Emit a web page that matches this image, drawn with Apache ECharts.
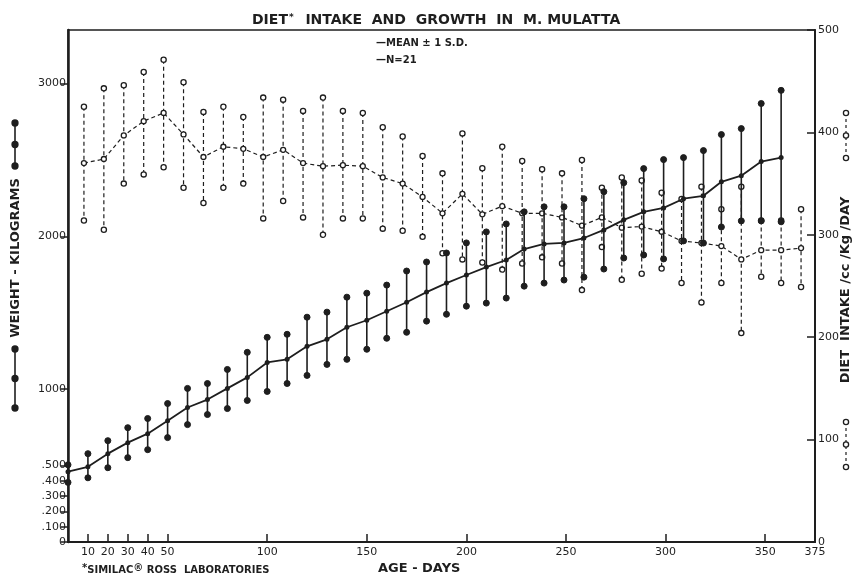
<!DOCTYPE html>
<html>
<head>
<meta charset="utf-8">
<script src="https://cdn.jsdelivr.net/npm/echarts@6/dist/echarts.min.js"></script>
<style>
  html, body { margin: 0; padding: 0; background: #fff; }
  #chart { width: 854px; height: 581px; }
</style>
</head>
<body>
<div id="chart"></div>
<script>
// weight (left axis), mean ± 1 S.D.
const weightDays = [0, 10, 20, 30, 40, 50, 60, 70, 80, 90, 100, 110, 120, 130, 140, 150, 160, 170, 180, 190, 200, 210, 220,
  229, 239, 249, 259, 269, 279, 289, 299, 309, 319, 328, 338, 348, 358];
const weightMean = [460, 492, 578, 650, 709, 794, 880, 932, 1005, 1077, 1175, 1195, 1280, 1326, 1405, 1451, 1510, 1569, 1635, 1694, 1747, 1799, 1845,
  1917, 1950, 1957, 1989, 2042, 2108, 2160, 2186, 2246, 2265, 2357, 2397, 2489, 2515];
const weightUpper = [505, 578, 663, 748, 808, 906, 1005, 1037, 1129, 1241, 1339, 1359, 1471, 1504, 1602, 1628, 1681, 1773, 1832, 1891, 1957, 2029, 2081,
  2160, 2193, 2193, 2246, 2292, 2351, 2443, 2502, 2515, 2561, 2666, 2705, 2869, 2955];
const weightLower = [390, 420, 486, 552, 604, 683, 768, 834, 873, 926, 985, 1037, 1090, 1162, 1195, 1261, 1333, 1372, 1445, 1490, 1543, 1563, 1596,
  1674, 1694, 1714, 1733, 1786, 1858, 1878, 1852, 1970, 1956, 2061, 2101, 2101, 2095];

// diet intake (right axis), mean ± 1 S.D.
const dietDays = [8, 18, 28, 38, 48, 58, 68, 78, 88, 98, 108, 118, 128, 138, 148, 158, 168, 178, 188, 198, 208, 218, 228,
  238, 248, 258, 268, 278, 288, 298, 308, 318, 328, 338, 348, 358, 368];
const dietMean = [370, 374, 397, 411, 419, 398, 376, 386, 384, 376, 383, 370, 367, 368, 367, 356, 350, 337, 321, 340, 320, 328, 321,
  321, 317, 309, 317, 307, 308, 303, 294, 292, 289, 276, 285, 285, 287];
const dietUpper = [425, 443, 446, 459, 471, 449, 420, 425, 415, 434, 432, 421, 434, 421, 419, 405, 396, 377, 360, 399, 365, 386, 372,
  364, 360, 373, 346, 356, 353, 341, 335, 347, 325, 347, 314, 314, 325];
const dietLower = [314, 305, 350, 359, 366, 346, 331, 346, 350, 316, 333, 317, 300, 316, 316, 306, 304, 298, 282, 276, 273, 266, 272,
  278, 272, 246, 288, 256, 262, 267, 253, 234, 253, 204, 259, 253, 249];

const xTickValues = [10, 20, 30, 40, 50, 100, 150, 200, 250, 300, 350];
const xLabelValues = [10, 20, 30, 40, 50, 100, 150, 200, 250, 300, 350, 375];
const weightTickValues = [0, 100, 200, 300, 400, 500, 1000, 2000, 3000];

const ink = '#1e1e1e';
const font = 'DejaVu Sans';

const chart = echarts.init(document.getElementById('chart'));

function whisker(dashed, filled) {
  return function (params, api) {
    const x = api.value(0);
    const top = api.coord([x, api.value(1)]);
    const bot = api.coord([x, api.value(2)]);
    const r = filled ? 3 : 2.6;
    const dot = (p) => ({
      type: 'circle',
      shape: {cx: p[0], cy: p[1], r: r},
      style: {fill: filled ? ink : '#fff', stroke: ink, lineWidth: filled ? 1 : 1.3}
    });
    return {
      type: 'group',
      children: [
        {
          type: 'line',
          shape: {x1: top[0], y1: top[1], x2: bot[0], y2: bot[1]},
          style: {stroke: ink, lineWidth: dashed ? 1.2 : 1.6, lineDash: dashed ? [4, 3] : null}
        },
        dot(top),
        dot(bot)
      ]
    };
  };
}

// little key next to the rotated axis titles: a vertical stroke with three dots
function keyMark(x, y1, y2, dashed) {
  const ym = (y1 + y2) / 2;
  const dots = [y1, ym, y2].map((y) => ({
    type: 'circle',
    shape: {cx: x, cy: y, r: dashed ? 2.6 : 3},
    style: {fill: dashed ? '#fff' : ink, stroke: ink, lineWidth: 1.3}
  }));
  return {
    type: 'group',
    children: [{
      type: 'line',
      shape: {x1: x, y1: y1, x2: x, y2: y2},
      style: {stroke: ink, lineWidth: dashed ? 1.2 : 1.6, lineDash: dashed ? [3, 3] : null}
    }].concat(dots)
  };
}

const option = {
  backgroundColor: '#fff',
  animation: false,
  title: {
    text: 'DIET{s|*}  INTAKE  AND  GROWTH  IN  M. MULATTA',
    left: 247,
    top: 8,
    textStyle: {
      fontFamily: font, fontSize: 14, fontWeight: 'bold', color: ink,
      rich: {s: {fontFamily: font, fontSize: 9, fontWeight: 'bold', color: ink, verticalAlign: 'top', padding: [0, 2, 6, 1]}}
    }
  },
  grid: {
    left: 68, right: 39, top: 30, bottom: 39,
    show: true, borderColor: ink, borderWidth: 1.5
  },
  xAxis: {
    type: 'value',
    min: 0,
    max: 375,
    axisLine: {lineStyle: {color: ink, width: 2}},
    axisTick: {inside: true, length: 8, customValues: xTickValues, lineStyle: {color: ink, width: 1.5}},
    axisLabel: {customValues: xLabelValues, color: ink, fontFamily: font, fontSize: 11, margin: 5},
    splitLine: {show: false}
  },
  yAxis: [
    {
      type: 'value',
      min: 0,
      max: 3350,
      axisLine: {show: true, lineStyle: {color: ink, width: 2.5}},
      axisTick: {customValues: weightTickValues, length: 7, lineStyle: {color: ink, width: 1.5}},
      axisLabel: {
        customValues: weightTickValues,
        color: ink, fontFamily: font, fontSize: 11, margin: 2,
        formatter: (v) => (v > 0 && v <= 500) ? '.' + v : String(v)
      },
      splitLine: {show: false}
    },
    {
      type: 'value',
      position: 'right',
      min: 0,
      max: 500,
      interval: 100,
      axisLine: {show: true, lineStyle: {color: ink, width: 2}},
      axisTick: {inside: true, length: 8, lineStyle: {color: ink, width: 1.5}},
      axisLabel: {color: ink, fontFamily: font, fontSize: 11, margin: 3},
      splitLine: {show: false}
    }
  ],
  graphic: [
    {
      type: 'text', left: 376, top: 38,
      style: {text: '—MEAN ± 1 S.D.', fill: ink, font: 'bold 10px "DejaVu Sans"'}
    },
    {
      type: 'text', left: 376, top: 55,
      style: {text: '—N=21', fill: ink, font: 'bold 10px "DejaVu Sans"'}
    },
    keyMark(15, 123, 166, false),
    {
      type: 'text', x: 16, y: 258, rotation: Math.PI / 2,
      style: {
        text: 'WEIGHT - KILOGRAMS',
        fill: ink, font: 'bold 13px "DejaVu Sans"', align: 'center', verticalAlign: 'middle'
      }
    },
    keyMark(15, 349, 408, false),
    keyMark(846, 113, 158, true),
    {
      type: 'text', x: 846, y: 290, rotation: Math.PI / 2,
      style: {
        text: 'DIET  INTAKE /cc /Kg /DAY',
        fill: ink, font: 'bold 13px "DejaVu Sans"', align: 'center', verticalAlign: 'middle'
      }
    },
    keyMark(846, 422, 467, true),
    {
      type: 'text', left: 82, top: 563,
      style: {
        text: '{a|*}SIMILAC{a|®} ROSS  LABORATORIES',
        fill: ink, font: 'bold 10px "DejaVu Sans"',
        rich: {a: {fontSize: 10, fontWeight: 'bold', fontFamily: font, fill: ink, verticalAlign: 'top', padding: [0, 0, 5, 0]}}
      }
    },
    {
      type: 'text', left: 378, top: 562,
      style: {text: 'AGE - DAYS', fill: ink, font: 'bold 13px "DejaVu Sans"'}
    }
  ],
  series: [
    {
      name: 'weight S.D.',
      type: 'custom',
      xAxisIndex: 0,
      yAxisIndex: 0,
      renderItem: whisker(false, true),
      encode: {x: 0, y: [1, 2]},
      data: weightDays.map((d, i) => [d, weightUpper[i], weightLower[i]]),
      z: 3
    },
    {
      name: 'weight',
      type: 'line',
      yAxisIndex: 0,
      data: weightDays.map((d, i) => [d, weightMean[i]]),
      symbol: 'circle',
      symbolSize: 5,
      itemStyle: {color: ink},
      lineStyle: {color: ink, width: 1.8},
      z: 4
    },
    {
      name: 'diet S.D.',
      type: 'custom',
      xAxisIndex: 0,
      yAxisIndex: 1,
      renderItem: whisker(true, false),
      encode: {x: 0, y: [1, 2]},
      data: dietDays.map((d, i) => [d, dietUpper[i], dietLower[i]]),
      z: 2
    },
    {
      name: 'diet intake',
      type: 'line',
      yAxisIndex: 1,
      data: dietDays.map((d, i) => [d, dietMean[i]]),
      symbol: 'circle',
      symbolSize: 5,
      itemStyle: {color: '#fff', borderColor: ink, borderWidth: 1.3},
      lineStyle: {color: ink, width: 1.2, type: [4, 3]},
      z: 2
    }
  ]
};

chart.setOption(option);
</script>
</body>
</html>
